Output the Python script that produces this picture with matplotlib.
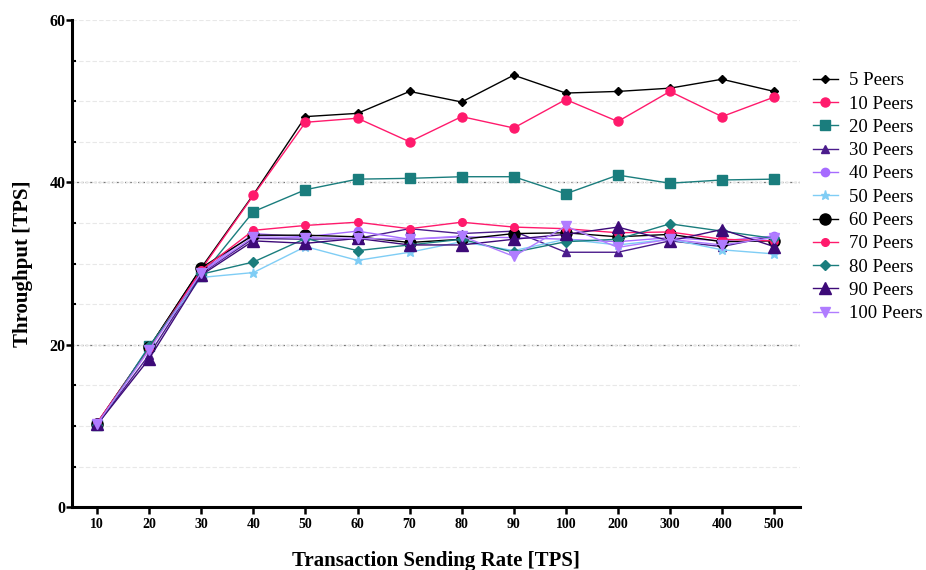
import numpy as np
import matplotlib.pyplot as plt
from matplotlib.ticker import MultipleLocator

plt.rcParams['font.family'] = ['Liberation Serif', 'DejaVu Serif']

rates = ['10', '20', '30', '40', '50', '60', '70', '80', '90', '100', '200', '300', '400', '500']

p5 = [10.4, 19.7, 29.5, 38.5, 48.1, 48.5, 51.2, 49.9, 53.2, 51.0, 51.2, 51.6, 52.7, 51.2]
p10 = [10.4, 19.6, 29.3, 38.4, 47.4, 47.9, 45.0, 48.1, 46.7, 50.2, 47.5, 51.2, 48.1, 50.5]
p20 = [10.1, 19.8, 28.5, 36.4, 39.1, 40.4, 40.5, 40.7, 40.7, 38.6, 40.9, 39.9, 40.3, 40.4]
p30 = [10.2, 18.8, 28.8, 33.1, 33.0, 33.1, 34.3, 33.7, 34.0, 31.4, 31.4, 32.8, 32.1, 33.4]
p40 = [10.3, 19.5, 29.0, 33.7, 33.3, 34.0, 33.0, 33.3, 33.2, 33.0, 32.7, 33.2, 32.8, 33.4]
p50 = [10.1, 19.9, 28.3, 28.9, 32.1, 30.4, 31.4, 32.7, 31.6, 33.0, 32.3, 33.0, 31.7, 31.2]
p60 = [10.3, 19.7, 29.5, 33.5, 33.5, 33.3, 32.6, 33.0, 33.7, 33.8, 33.3, 33.6, 32.7, 32.8]
p70 = [10.4, 19.6, 29.2, 34.1, 34.7, 35.1, 34.3, 35.1, 34.5, 34.3, 33.8, 33.9, 33.0, 32.8]
p80 = [10.1, 19.8, 28.7, 30.2, 33.1, 31.6, 32.3, 33.0, 31.4, 32.7, 33.0, 34.9, 34.0, 33.1]
p90 = [10.2, 18.3, 28.6, 32.8, 32.5, 33.1, 32.3, 32.3, 33.0, 33.6, 34.5, 32.8, 34.2, 32.1]
p100 = [10.3, 19.4, 28.9, 33.3, 33.2, 33.1, 33.0, 33.4, 30.9, 34.6, 32.0, 33.0, 32.3, 33.2]

series = [
    ('5 Peers', p5, 'black', 'D', 4.5),
    ('10 Peers', p10, '#ff1a6c', 'o', 6.5),
    ('20 Peers', p20, '#1a7d7d', 's', 6.5),
    ('30 Peers', p30, '#4b1c8c', '^', 5.5),
    ('40 Peers', p40, '#a66bff', 'o', 6),
    ('50 Peers', p50, '#7fcdf5', '*', 6.5),
    ('60 Peers', p60, 'black', 'o', 8),
    ('70 Peers', p70, '#ff1a6c', 'o', 5.5),
    ('80 Peers', p80, '#1a7d7d', 'D', 5.5),
    ('90 Peers', p90, '#3d0a78', '^', 8),
    ('100 Peers', p100, '#b07cff', 'v', 6.5),
]

x = np.arange(len(rates))

fig = plt.figure(figsize=(9.26, 5.70), dpi=100)
ax = fig.add_axes([0.078, 0.11, 0.786, 0.855])

for label, vals, col, mk, ms in series:
    ax.plot(x, vals, color=col, marker=mk, markersize=ms, lw=1.0, label=label)

ax.set_xlim(-0.48, 13.5)
ax.set_ylim(0, 60)
ax.set_xticks(x)
ax.set_xticklabels(rates, fontweight='bold', fontsize=10)
ax.set_yticks([0, 20, 40, 60])
ax.set_yticklabels(['0', '20', '40', '60'], fontweight='bold', fontsize=11.5)
ax.yaxis.set_minor_locator(MultipleLocator(5))
ax.grid(axis='y', which='both', color='#e8e8e8', ls=(0, (4, 2)), lw=0.8)
for yv in [20, 40]:
    ax.axhline(yv, color='#777777', ls=(0, (2, 1.5)), lw=0.9, zorder=0.5)
ax.set_axisbelow(True)

for s in ['top', 'right']:
    ax.spines[s].set_visible(False)
for s in ['left', 'bottom']:
    ax.spines[s].set_linewidth(2.2)
ax.tick_params(axis='x', which='major', direction='out', length=5, width=1.8, pad=3)
ax.tick_params(axis='y', which='major', direction='out', length=4, width=1.8, pad=1)
ax.tick_params(axis='y', which='minor', direction='in', length=3, width=1.5)

ax.set_xlabel('Transaction Sending Rate [TPS]', fontweight='bold', fontsize=15, labelpad=14)
ax.set_ylabel('Throughput [TPS]', fontweight='bold', fontsize=15, labelpad=12)

ax.legend(loc='upper left', bbox_to_anchor=(1.0, 0.92), frameon=False, fontsize=13.5,
          handlelength=1.3, handletextpad=0.6, labelspacing=0.33, borderaxespad=0.3)

fig.savefig('out.png', dpi=100)
